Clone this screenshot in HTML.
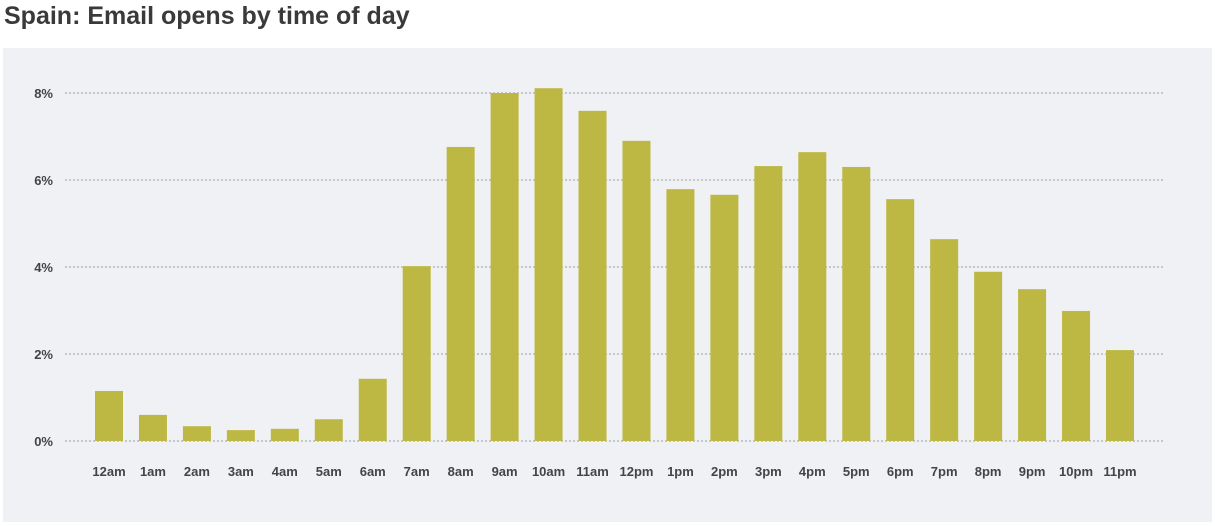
<!DOCTYPE html>
<html><head><meta charset="utf-8"><style>
body{margin:0;width:1215px;height:526px;background:#fff;font-family:"Liberation Sans",sans-serif;overflow:hidden}
#title{position:absolute;left:4px;top:0px;font-size:25px;font-weight:bold;color:#3a3a3a;line-height:32px}
#panel{position:absolute;left:3px;top:48px;width:1209px;height:474px;background:#f0f1f5}
svg{position:absolute;left:0;top:0}
</style></head><body>
<div id="title">Spain: Email opens by time of day</div>
<div id="panel"></div>
<svg id="chart" width="1215" height="526"></svg>
<script>
const categories=["12am","1am","2am","3am","4am","5am","6am","7am","8am","9am","10am","11am","12pm","1pm","2pm","3pm","4pm","5pm","6pm","7pm","8pm","9pm","10pm","11pm"];
const values=[1.15,0.6,0.34,0.25,0.28,0.5,1.43,4.02,6.76,8.0,8.11,7.59,6.9,5.79,5.66,6.32,6.64,6.3,5.56,4.64,3.89,3.49,2.99,2.09];
const yTicks=[0,2,4,6,8];
const yLabels=["0%","2%","4%","6%","8%"];
const svg=document.getElementById('chart');
const NS='http://www.w3.org/2000/svg';
const y0=441,y8=93;
function y(v){return y0-(y0-y8)*v/8;}
function x(i){return 109+i*(1120-109)/(categories.length-1);}
function mk(t,a){const e=document.createElementNS(NS,t);for(const k in a)e.setAttribute(k,a[k]);svg.appendChild(e);return e;}
yTicks.forEach((t,i)=>{
  const l=mk('line',{x1:65,x2:1163,y1:y(t),y2:y(t),stroke:'#9a9a9a','stroke-dasharray':'2,2','stroke-width':1});
  
  
  const tx=mk('text',{x:53,y:y(t)+5,'text-anchor':'end','font-size':13,'font-weight':'bold',fill:'#444'});
  tx.textContent=yLabels[i];
  
  
});
categories.forEach((c,i)=>{
  const b=mk('rect',{x:x(i)-14,y:y(values[i]),width:28,height:y0-y(values[i]),fill:'#bdb843'});
  
  
  const tx=mk('text',{x:x(i),y:476,'text-anchor':'middle','font-size':13,'font-weight':'bold',fill:'#444'});
  tx.textContent=c;
  
  
});
</script>
</body></html>
